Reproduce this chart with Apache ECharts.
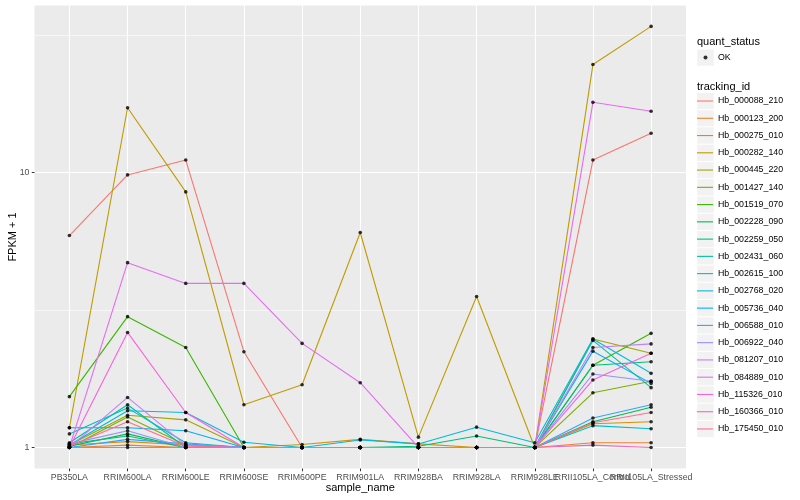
<!DOCTYPE html>
<html><head><meta charset="utf-8">
<script src="https://cdn.jsdelivr.net/npm/echarts@6/dist/echarts.min.js"></script>
<style>html,body{margin:0;padding:0;background:#fff}#c{width:800px;height:500px}</style>
</head><body><div id="c"></div>
<script>
const categories = ['PB350LA','RRIM600LA','RRIM600LE','RRIM600SE','RRIM600PE','RRIM901LA','RRIM928BA','RRIM928LA','RRIM928LE','RRII105LA_Control','RRII105LA_Stressed'];
const trackingIds = ['Hb_000088_210','Hb_000123_200','Hb_000275_010','Hb_000282_140','Hb_000445_220','Hb_001427_140','Hb_001519_070','Hb_002228_090','Hb_002259_050','Hb_002431_060','Hb_002615_100','Hb_002768_020','Hb_005736_040','Hb_006588_010','Hb_006922_040','Hb_081207_010','Hb_084889_010','Hb_115326_010','Hb_160366_010','Hb_175450_010'];
const colors = ['#F8766D','#EA8331','#D89000','#C09B00','#A3A500','#7CAE00','#39B600','#00BB4E','#00BF7D','#00C1A3','#00BFC4','#00BAE0','#00B0F6','#35A2FF','#9590FF','#C77CFF','#E76BF3','#FA62DB','#FF62BC','#FF6C91'];

// FPKM + 1 per sample (same order as categories)
const hb_000088_210 = [5.9, 9.8, 11.1, 2.23, 1.0, 1.0, 1.0, 1.0, 1.0, 11.1, 13.9];
const hb_000123_200 = [1.0, 1.02, 1.0, 1.0, 1.0, 1.0, 1.0, 1.0, 1.0, 1.04, 1.04];
const hb_000275_010 = [1.02, 1.05, 1.02, 1.0, 1.025, 1.07, 1.03, 1.0, 1.0, 1.22, 1.24];
const hb_000282_140 = [1.18, 17.2, 8.5, 1.43, 1.69, 6.05, 1.09, 3.54, 1.0, 24.7, 34.0];
const hb_000445_220 = [1.02, 1.31, 1.26, 1.0, 1.0, 1.0, 1.0, 1.0, 1.0, 2.48, 2.2];
const hb_001427_140 = [1.0, 1.29, 1.02, 1.0, 1.0, 1.0, 1.0, 1.0, 1.0, 1.58, 1.74];
const hb_001519_070 = [1.53, 2.99, 2.31, 1.0, 1.0, 1.0, 1.0, 1.0, 1.0, 1.99, 2.6];
const hb_002228_090 = [1.01, 1.12, 1.0, 1.0, 1.0, 1.0, 1.0, 1.0, 1.0, 1.24, 1.40];
const hb_002259_050 = [1.03, 1.10, 1.0, 1.0, 1.0, 1.0, 1.01, 1.10, 1.0, 1.99, 2.05];
const hb_002431_060 = [1.04, 1.43, 1.0, 1.0, 1.0, 1.0, 1.0, 1.0, 1.0, 2.45, 1.65];
const hb_002615_100 = [1.12, 1.39, 1.04, 1.0, 1.0, 1.0, 1.0, 1.0, 1.0, 1.2, 1.17];
const hb_002768_020 = [1.02, 1.36, 1.34, 1.045, 1.0, 1.065, 1.03, 1.185, 1.04, 2.48, 1.86];
const hb_005736_040 = [1.18, 1.18, 1.15, 1.0, 1.0, 1.0, 1.0, 1.0, 1.0, 2.24, 1.71];
const hb_006588_010 = [1.0, 1.07, 1.03, 1.0, 1.0, 1.0, 1.0, 1.0, 1.0, 1.28, 1.43];
const hb_006922_040 = [1.03, 1.15, 1.0, 1.0, 1.0, 1.0, 1.0, 1.0, 1.0, 1.85, 1.74];
const hb_081207_010 = [1.0, 1.52, 1.02, 1.0, 1.0, 1.0, 1.0, 1.0, 1.0, 2.31, 2.38];
const hb_084889_010 = [1.0, 4.7, 3.95, 3.95, 2.39, 1.72, 1.0, 1.0, 1.0, 18.0, 16.7];
const hb_115326_010 = [1.0, 2.62, 1.34, 1.0, 1.0, 1.0, 1.0, 1.0, 1.0, 1.76, 2.2];
const hb_160366_010 = [1.0, 1.0, 1.0, 1.0, 1.0, 1.0, 1.0, 1.0, 1.0, 1.02, 1.0];
const hb_175450_010 = [1.01, 1.24, 1.01, 1.0, 1.0, 1.0, 1.0, 1.0, 1.0, 1.23, 1.34];

const seriesValues = [hb_000088_210, hb_000123_200, hb_000275_010, hb_000282_140, hb_000445_220, hb_001427_140, hb_001519_070, hb_002228_090, hb_002259_050, hb_002431_060, hb_002615_100, hb_002768_020, hb_005736_040, hb_006588_010, hb_006922_040, hb_081207_010, hb_084889_010, hb_115326_010, hb_160366_010, hb_175450_010];
const yTickValues = [1, 10];
const yMinorGrid = [3.1623, 31.623];
const quantStatus = 'OK';

const FONT = 'Liberation Sans, Arial, sans-serif';
const catIdx = categories.map((c, i) => i);
const evenIdx = catIdx.filter(i => i % 2 === 0);
const oddIdx = catIdx.filter(i => i % 2 === 1);
const KEY = 17.26;
const LEG_LEFT = 697, LEG_TOP = 92.4, OK_TOP = 49;
const KEY_FILL = '#F2F2F2';
const LINE_ICON = 'path://M0,0 M16,17.26 M0,8.08 L16,8.08 L16,9.18 L0,9.18 Z';

const series = trackingIds.map((id, k) => ({
  name: id, type: 'line', symbol: 'none', z: 2, xAxisIndex: 0,
  color: colors[k],
  lineStyle: { width: 1.1, color: colors[k] },
  data: seriesValues[k].map((v, i) => [i, v])
}));
series.push({
  name: 'minor-grid', type: 'line', data: [], z: 1, silent: true, xAxisIndex: 0,
  markLine: { silent: true, symbol: 'none', z: 1, label: { show: false },
    lineStyle: { color: '#ffffff', width: 0.55, type: 'solid' },
    data: yMinorGrid.map(v => ({ yAxis: v })) }
});
const okData = [];
seriesValues.forEach(arr => arr.forEach((v, i) => okData.push([i, v])));
series.push({ name: quantStatus, type: 'scatter', symbol: 'circle', symbolSize: 3.6, z: 3, xAxisIndex: 0,
  itemStyle: { color: '#000' }, data: okData });

// grey legend key backgrounds (ggplot legend.key)
const keyRects = trackingIds.map((id, k) => ({
  type: 'rect', z: 0, silent: true,
  shape: { x: LEG_LEFT + 0.25, y: LEG_TOP + k * KEY + 0.5, width: 16.5, height: KEY - 1 },
  style: { fill: KEY_FILL }
}));
keyRects.push({ type: 'rect', z: 0, silent: true,
  shape: { x: LEG_LEFT + 0.25, y: OK_TOP + 0.5, width: 16.5, height: KEY - 1 }, style: { fill: KEY_FILL } });

const labelBase = { fontSize: 8.8, color: '#4D4D4D', margin: 5, hideOverlap: false, showMinLabel: true, showMaxLabel: true, fontFamily: FONT,
  formatter: v => categories[Math.round(v)] || '' };

const chart = echarts.init(document.getElementById('c'), null, { renderer: 'canvas' });
chart.setOption({
  animation: false,
  backgroundColor: '#ffffff',
  textStyle: { fontFamily: FONT },
  graphic: { elements: keyRects },
  title: [
    { text: 'quant_status', left: 697, top: 36.5, padding: 0, textStyle: { fontSize: 11, fontWeight: 'normal', color: '#000', fontFamily: FONT } },
    { text: 'tracking_id', left: 697, top: 81.5, padding: 0, textStyle: { fontSize: 11, fontWeight: 'normal', color: '#000', fontFamily: FONT } }
  ],
  legend: [
    { orient: 'vertical', left: LEG_LEFT + 6.5, top: OK_TOP + 6.6, padding: 0, itemWidth: 4, itemHeight: 4, itemGap: 0, icon: 'circle', selectedMode: false, z: 4,
      data: [{ name: quantStatus, itemStyle: { color: '#000' } }],
      formatter: () => '', textStyle: { fontSize: 1, color: 'rgba(0,0,0,0)' } },
    { orient: 'vertical', left: LEG_LEFT, top: OK_TOP, padding: 0, itemWidth: 16, itemHeight: KEY, itemGap: 0, icon: 'rect', selectedMode: false, z: 3,
      data: [{ name: quantStatus, itemStyle: { color: 'rgba(0,0,0,0)', borderWidth: 0 } }],
      textStyle: { fontSize: 8.8, color: '#000', fontFamily: FONT } },
    { orient: 'vertical', left: LEG_LEFT, top: LEG_TOP, padding: 0, itemWidth: 16, itemHeight: KEY, itemGap: 0, selectedMode: false, z: 4,
      icon: LINE_ICON, symbolKeepAspect: false,
      data: trackingIds,
      textStyle: { fontSize: 8.8, color: '#000', fontFamily: FONT } }
  ],
  grid: { left: 34.5, right: 114, top: 5.5, bottom: 31.5, show: true, backgroundColor: '#EBEBEB', borderWidth: 0, containLabel: false, outerBoundsMode: 'none' },
  xAxis: [
    {
      type: 'value', min: -0.6, max: 10.6, position: 'bottom', offset: 0,
      name: 'sample_name', nameLocation: 'middle', nameGap: 13.5, nameMoveOverlap: false,
      nameTextStyle: { fontSize: 11, color: '#000', fontFamily: FONT },
      axisLine: { show: false, onZero: false },
      axisTick: { show: true, length: 2.75, lineStyle: { color: '#333333', width: 1 }, customValues: catIdx },
      axisLabel: Object.assign({ customValues: evenIdx }, labelBase),
      splitLine: { show: true, lineStyle: { color: '#ffffff', width: 1.1 } }
    },
    {
      type: 'value', min: -0.6, max: 10.6, position: 'bottom', offset: 0,
      axisLine: { show: false, onZero: false },
      axisTick: { show: false, customValues: oddIdx },
      axisLabel: Object.assign({ customValues: oddIdx }, labelBase),
      splitLine: { show: false }
    }
  ],
  yAxis: {
    type: 'log', logBase: 10, min: 0.8383, max: 40.5,
    name: 'FPKM + 1', nameLocation: 'middle', nameGap: 16, nameRotate: 90, nameMoveOverlap: false,
    nameTextStyle: { fontSize: 11, color: '#000', fontFamily: FONT },
    axisLine: { show: false, onZero: false },
    axisTick: { show: true, length: 2.75, lineStyle: { color: '#333333', width: 1 }, customValues: yTickValues },
    axisLabel: { customValues: yTickValues, fontSize: 8.8, color: '#4D4D4D', margin: 5, fontFamily: FONT, showMinLabel: true, showMaxLabel: true },
    splitLine: { show: true, lineStyle: { color: '#ffffff', width: 1.1 } },
    minorSplitLine: { show: false }
  },
  series: series
});
</script></body></html>
